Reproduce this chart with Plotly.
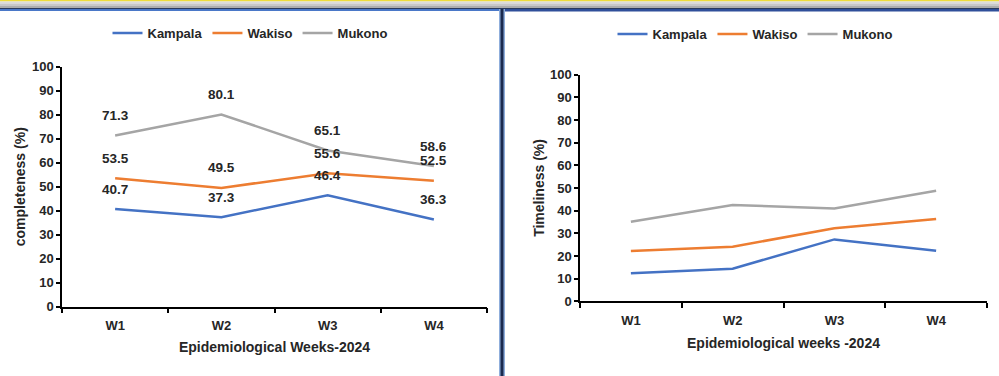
import plotly.graph_objects as go

# Reporting weeks
weeks = ["W1", "W2", "W3", "W4"]
districts = ["Kampala", "Wakiso", "Mukono"]
colors = {"Kampala": "#4472C4", "Wakiso": "#ED7D31", "Mukono": "#A5A5A5"}

# Completeness of weekly reporting (%)
completeness_kampala = [40.7, 37.3, 46.4, 36.3]
completeness_wakiso = [53.5, 49.5, 55.6, 52.5]
completeness_mukono = [71.3, 80.1, 65.1, 58.6]

# Timeliness of weekly reporting (%)
timeliness_kampala = [12.4, 14.4, 27.3, 22.3]
timeliness_wakiso = [22.2, 24.1, 32.2, 36.3]
timeliness_mukono = [35.1, 42.5, 40.9, 48.8]

completeness = {
    "Kampala": completeness_kampala,
    "Wakiso": completeness_wakiso,
    "Mukono": completeness_mukono,
}
timeliness = {
    "Kampala": timeliness_kampala,
    "Wakiso": timeliness_wakiso,
    "Mukono": timeliness_mukono,
}

FONT = "Liberation Sans, Arial, sans-serif"
INK = "#262626"
W, H = 999, 376

fig = go.Figure()

for name in districts:
    fig.add_trace(go.Scatter(
        x=weeks, y=completeness[name], name=name, mode="lines",
        line=dict(color=colors[name], width=2.5),
        xaxis="x", yaxis="y", legend="legend",
    ))
for name in districts:
    fig.add_trace(go.Scatter(
        x=weeks, y=timeliness[name], name=name, mode="lines",
        line=dict(color=colors[name], width=2.5),
        xaxis="x2", yaxis="y2", legend="legend2",
    ))

# value labels above each completeness point
annotations = []
for name in districts:
    for wk, v in zip(weeks, completeness[name]):
        annotations.append(dict(
            x=wk, y=v, xref="x", yref="y", text=f"{v}", showarrow=False,
            yshift=20, font=dict(family=FONT, size=13.5, color=INK, weight="bold"),
        ))


def px_x(p):
    return p / W


def px_y(p):
    return 1 - p / H


title_font = dict(family=FONT, size=14, color=INK, weight="bold")
xcommon = dict(
    type="category", categoryorder="array", categoryarray=weeks,
    range=[-0.5, 3.5], tickson="boundaries", ticks="outside", ticklen=5,
    tickwidth=1.5, tickcolor="black", showline=True, linecolor="black",
    linewidth=1.5, showgrid=False, zeroline=False, automargin=False,
    ticklabelstandoff=6,
    tickfont=dict(family=FONT, size=13, color=INK, weight="bold"),
)
ycommon = dict(
    range=[0, 100], dtick=10, ticks="outside", ticklen=4, tickwidth=1.5,
    tickcolor="black", showline=True, linecolor="black", linewidth=1.5,
    showgrid=False, zeroline=False, automargin=False,
    tickfont=dict(family=FONT, size=13, color=INK, weight="bold"),
)

fig.update_layout(
    width=W, height=H, autosize=False,
    margin=dict(l=0, r=0, t=0, b=0, pad=0, autoexpand=False),
    paper_bgcolor="white", plot_bgcolor="white",
    font=dict(family=FONT, color=INK),
    xaxis=dict(domain=[px_x(62), px_x(487)], anchor="y",
               title=dict(text="Epidemiological Weeks-2024", font=title_font,
                          standoff=10),
               **xcommon),
    yaxis=dict(domain=[px_y(306.7), px_y(66.7)], anchor="x",
               title=dict(text="completeness (%)", font=title_font, standoff=3),
               **ycommon),
    xaxis2=dict(domain=[px_x(580), px_x(987)], anchor="y2",
                title=dict(text="Epidemiological weeks -2024", font=title_font,
                           standoff=12),
                **xcommon),
    yaxis2=dict(domain=[px_y(301.3), px_y(74.6)], anchor="x2",
                title=dict(text="Timeliness (%)", font=title_font, standoff=2),
                **ycommon),
    legend=dict(orientation="h", x=px_x(250), xanchor="center", y=px_y(33),
                yanchor="middle", bgcolor="rgba(0,0,0,0)",
                font=dict(family=FONT, size=13, color=INK, weight="bold")),
    legend2=dict(orientation="h", x=px_x(755), xanchor="center", y=px_y(34),
                 yanchor="middle", bgcolor="rgba(0,0,0,0)",
                 font=dict(family=FONT, size=13, color=INK, weight="bold")),
    annotations=annotations,
)

# slide frame: yellow rule, grey bevel, blue rules and the centre divider
shapes = [
    dict(type="rect", x0=0, x1=1, y0=px_y(1.6), y1=1, fillcolor="#EEDC3C"),
    dict(type="rect", x0=0, x1=1, y0=px_y(3.5), y1=px_y(1.6), fillcolor="#DCDCDC"),
    dict(type="rect", x0=0, x1=1, y0=px_y(6), y1=px_y(3.5), fillcolor="#C8C8C8"),
    dict(type="rect", x0=0, x1=1, y0=px_y(8), y1=px_y(6), fillcolor="#ADADAD"),
    dict(type="rect", x0=0, x1=1, y0=px_y(9), y1=px_y(8), fillcolor="#2B3A5C"),
    dict(type="rect", x0=0, x1=px_x(500), y0=px_y(11), y1=px_y(9), fillcolor="#4A78C8"),
    dict(type="rect", x0=px_x(500), x1=1, y0=px_y(11.5), y1=px_y(9), fillcolor="#2F4F9A"),
    dict(type="rect", x0=px_x(499), x1=px_x(505), y0=0, y1=px_y(9), fillcolor="#8FAEDC"),
    dict(type="rect", x0=px_x(500.5), x1=px_x(503.5), y0=0, y1=px_y(9), fillcolor="#1B2A4E"),
]
for s in shapes:
    s.update(xref="paper", yref="paper", line=dict(width=0), layer="above")
fig.update_layout(shapes=shapes)

fig.write_html("out.html")
